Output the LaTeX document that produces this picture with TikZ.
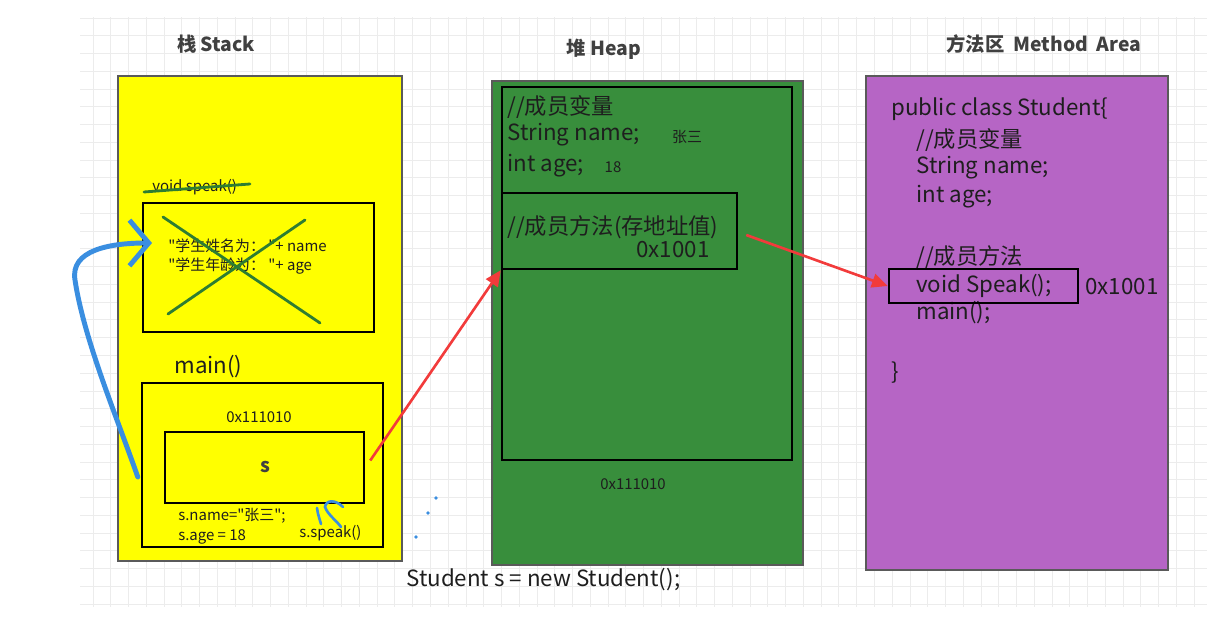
\documentclass[tikz,border=0pt]{standalone}
\usepackage{fontspec}
\setmainfont{Noto Sans CJK SC}[Ligatures=TeXOff]
\usetikzlibrary{arrows.meta,fit,calc}
\definecolor{cStack}{HTML}{FFFF00}
\definecolor{cHeap}{HTML}{388E3C}
\definecolor{cMeth}{HTML}{B665C5}
\definecolor{cEdge}{HTML}{5A5A5A}
\definecolor{cInk}{HTML}{1E1E1E}
\definecolor{cTitle}{HTML}{404040}
\definecolor{cCross}{HTML}{2E7D32}
\definecolor{cRef}{HTML}{F23B3B}
\definecolor{cCall}{HTML}{3A8EE0}
\definecolor{cGrid}{HTML}{ECECEC}
\tikzset{
  mem/grid/.style   ={cGrid, line width=0.5pt},
  mem/area/.style   ={draw=cEdge, line width=1.1pt, inner sep=0pt},
  mem/frame/.style  ={draw=black, line width=1.4pt, inner sep=0pt},
  mem/title/.style  ={font=\bfseries\fontsize{11}{13}\selectfont, text=cTitle, inner sep=0pt},
  mem/code/.style   ={font=\fontsize{12.7}{15}\selectfont, text=cInk, inner sep=0pt, anchor=west},
  mem/small/.style  ={font=\fontsize{8.5}{10}\selectfont, text=cInk, inner sep=0pt},
  mem/ref/.style    ={-{Triangle[length=9pt, width=8pt]}, cRef, line width=1.5pt},
  mem/call/.style   ={-{Straight Barb[length=11pt, width=26pt]}, cCall, line width=2.8pt,
                      line cap=round},
  mem/scribble/.style={cCall, line width=1.5pt, line cap=round},
  mem/cross/.style  ={cCross, line width=1.6pt, line cap=round}
}

\begin{document}
\begin{tikzpicture}[x=0.02cm, y=-0.02cm]
    \useasboundingbox (0,0) rectangle (1207,624);
    % --- background grid ---
    \foreach \i in {0,...,62} {
      \draw[mem/grid] ({93+17.76*\i},17) -- ({93+17.76*\i},607);
    }
    \foreach \j in {0,...,33} {
      \draw[mem/grid] (80,{18+17.76*\j}) -- (1207,{18+17.76*\j});
    }
    % --- the three memory areas ---
    \node[mem/area, fill=cStack, fit={(118,76) (402,561)}] (stack) {};
    \node[mem/area, fill=cHeap,  fit={(492,81) (803,565)}] (heap) {};
    \node[mem/area, fill=cMeth,  fit={(866,76) (1168,570)}] (meth) {};
    \node[mem/title] (tStack) at (216,44) {栈 Stack};
    \node[mem/title] (tHeap)  at (604,49) {堆 Heap};
    \node[mem/title] (tMeth)  at (1044,44) {方法区\ \ Method\ \ Area};
    % --- stack: popped speak() frame ---
    \node[mem/small, anchor=west] (vspeak) at (152,187) {void speak()};
    \draw[mem/cross] (144,192) -- (250,184);
    \node[mem/frame, fit={(143,203) (374,332)}] (spk) {};
    \node[mem/small, anchor=west] (spkname) at (168,246) {"学生姓名为： "+ name};
    \node[mem/small, anchor=west] (spkage)  at (168,266) {"学生年龄为： "+ age};
    \draw[mem/cross] (163,217) -- (320,323);
    \draw[mem/cross] (305,220) -- (168,314);
    % --- stack: main() frame ---
    \node[mem/code] (lmain) at (174,367) {main()};
    \node[mem/frame, fit={(142,383) (383,547)}] (mainf) {};
    \node[mem/small] (saddr) at (259,417) {0x111010};
    \node[mem/frame, fit={(165,432) (364,503)}] (sbox) {};
    \node[font=\bfseries\fontsize{11}{13}\selectfont, text=cTitle] (svar) at (265,467) {s};
    \node[mem/small, anchor=west] (sname) at (178,516) {s.name="张三";};
    \node[mem/small, anchor=west] (sage)  at (178,537) {s.age = 18};
    \node[mem/small, anchor=west] (scall) at (299,533) {s.speak()};
    % --- heap: the Student object ---
    \node[mem/frame, fit={(502,87) (792,460)}] (obj) {};
    \node[mem/code] (hvar)  at (507,107) {//成员变量};
    \node[mem/code] (hname) at (507,135) {String name;};
    \node[mem/small] (hnameval) at (687,137) {张三};
    \node[mem/code] (hage)  at (507,166) {int age;};
    \node[mem/small] (hageval) at (613,167) {18};
    \node[mem/frame, fit={(502,193) (737,269)}] (hmeth) {};
    \node[mem/code] (hmethc) at (507,227) {//成员方法(存地址值)};
    \node[mem/code, anchor=center] (hmethaddr) at (673,250) {0x1001};
    \node[mem/small] (haddr) at (633,484) {0x111010};
    \node[mem/code] (newstmt) at (406,580) {Student s = new Student();};
    % --- method area: class code ---
    \foreach \lx/\ly/\txt/\nm in {891/109/{public class Student\{}/mcls,
        916/140/{//成员变量}/mvar, 916/168/{String name;}/mname,
        916/197/{int age;}/mage, 916/257/{//成员方法}/mmeth,
        916/286/{void Speak();}/mspeak, 916/313/{main();}/mmain, 891/373/{\}}/mend} {
      \node[mem/code] (\nm) at (\lx,\ly) {\txt};
    }
    \node[mem/frame, fit={(889,269) (1078,303)}] (msp) {};
    \node[mem/code] (maddr) at (1085,287) {0x1001};
    % --- references ---
    \draw[mem/ref] ([shift={(5,-7)}]sbox.east) -- (hmeth.south west);
    \draw[mem/ref] ([shift={(8,4)}]hmeth.east) -- (msp.west);
    % hand-drawn call of speak()
    \coordinate (callin) at (152,243);
    \draw[mem/call] ([shift={(-3,12)}]mainf.west) .. controls (118,420) and (84,340) .. (75,280)
                    .. controls (70,250) and (110,243) .. (callin);
    \draw[mem/scribble] (317,508) .. controls (318,514) .. (321,524);
    \draw[mem/scribble] (343,507) .. controls (335,499) and (326,500) .. (325,507)
                        .. controls (328,515) and (336,520) .. (341,527);
    \foreach \p in {(436,498),(428,513),(416,537)} {
      \fill[cCall] \p circle (1.1pt);
    }
\end{tikzpicture}
\end{document}
